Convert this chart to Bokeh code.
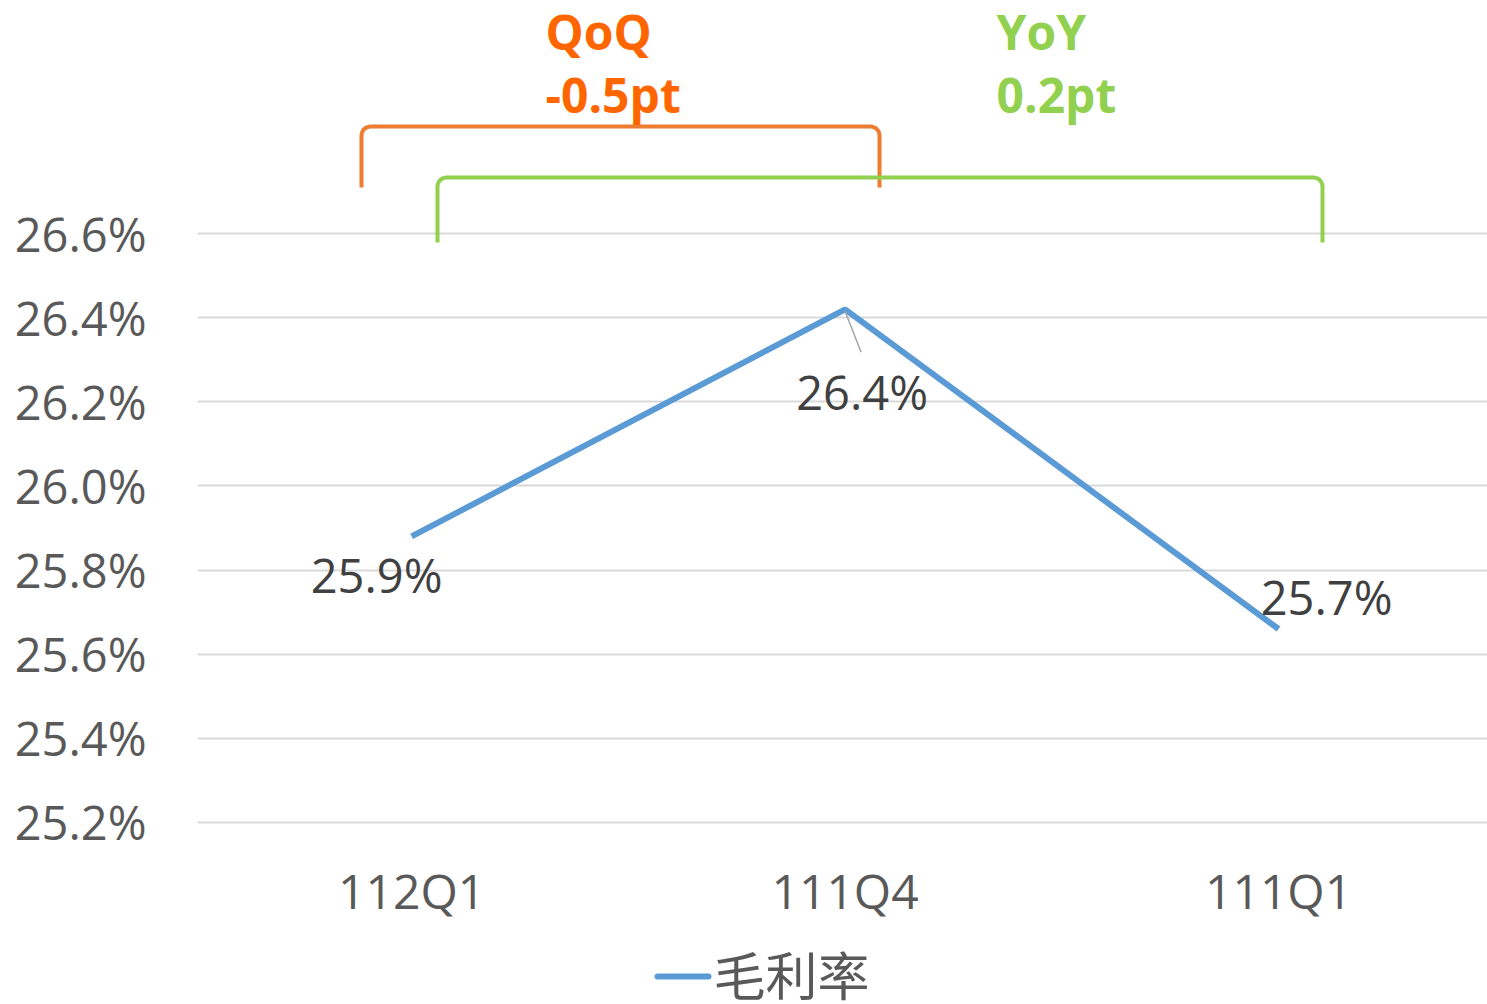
import numpy as np
from bokeh.plotting import figure
from bokeh.layouts import column
from bokeh.models import Range1d, FixedTicker, ColumnDataSource
from bokeh.core.properties import value
from bokeh.embed import file_html
from bokeh.resources import INLINE

# ---- data ----
categories = ["112Q1", "111Q4", "111Q1"]
gross_margin = [25.88, 26.42, 25.66]          # %
data_labels = ["25.9%", "26.4%", "25.7%"]
y_ticks = [25.2, 25.4, 25.6, 25.8, 26.0, 26.2, 26.4, 26.6]
qoq_text = ["QoQ", "-0.5pt"]
yoy_text = ["YoY", "0.2pt"]
series_name = "毛利率"

# ---- layout constants (pixels) ----
W, H_TOTAL = 1487, 1004
H1 = 930                      # main chart
H2 = H_TOTAL - H1             # legend strip
LEFT = 197
FRAME_BOTTOM = 825
BOTTOM = H1 - FRAME_BOTTOM
FRAME_W = W - LEFT
XA, XB = 0.006, 2.982
PXX = FRAME_W / (XB - XA)
PXY = 420.5
Y_GRID_TOP_PX = 233
y0 = 25.2 - (FRAME_BOTTOM - 822) / PXY
y1 = 26.6 + Y_GRID_TOP_PX / PXY

FONT = "Open Sans"
LINE_COLOR = "#5B9BD5"
x_pos = [i + 0.5 for i in range(len(categories))]

p = figure(width=W, height=H1, output_backend="svg", toolbar_location=None,
           x_range=Range1d(XA, XB), y_range=Range1d(y0, y1),
           min_border_left=LEFT, min_border_right=0, min_border_top=0,
           min_border_bottom=BOTTOM)
p.outline_line_color = None
p.background_fill_color = "white"
p.border_fill_color = "white"

# axes
p.xaxis.ticker = FixedTicker(ticks=x_pos)
p.xaxis.major_label_overrides = {x: c for x, c in zip(x_pos, categories)}
p.yaxis.ticker = FixedTicker(ticks=y_ticks)
p.yaxis.major_label_overrides = {t: f"{t:.1f}%" for t in y_ticks}
for ax in (p.xaxis, p.yaxis):
    ax.axis_line_color = None
    ax.major_tick_line_color = None
    ax.minor_tick_line_color = None
    ax.major_label_text_color = "#595959"
    ax.major_label_text_font = FONT
p.yaxis.major_label_text_font_size = "47px"
p.yaxis.major_label_standoff = 45
p.xaxis.major_label_text_font_size = "48px"
p.xaxis.major_label_standoff = 26
p.xgrid.grid_line_color = None
p.ygrid.ticker = FixedTicker(ticks=y_ticks)
p.ygrid.grid_line_color = "#D9D9D9"
p.ygrid.grid_line_width = 2

# line
src = ColumnDataSource(dict(x=x_pos, y=gross_margin, lab=data_labels,
                            xo=[-35, 17, 48], yo=[39, 83, -32]))
p.line("x", "y", source=src, line_color=LINE_COLOR, line_width=6)

# leader line for middle label
p.segment(x0=[x_pos[1]], y0=[gross_margin[1] - 2 / PXY],
          x1=[x_pos[1] + 16 / PXX], y1=[gross_margin[1] - 43 / PXY],
          line_color="#A6A6A6", line_width=1.5)

p.text("x", "y", text="lab", source=src, x_offset="xo", y_offset="yo",
       text_font=value(FONT), text_font_size="47px", text_color="#404040",
       text_align="center", text_baseline="middle")

# brackets
def bracket(xa, xb, ytop, ybot, r=9):
    rx, ry = r / PXX, r / PXY
    t = np.linspace(0, np.pi / 2, 8)
    xs = [xa]
    ys = [ybot]
    xs += list(xa + rx - rx * np.cos(t))
    ys += list(ytop - ry + ry * np.sin(t))
    xs += list(xb - rx + rx * np.sin(t))
    ys += list(ytop - ry + ry * np.cos(t))
    xs.append(xb)
    ys.append(ybot)
    return xs, ys

def xpx(px):
    return XA + (px - LEFT) / PXX

def ypx(py):
    return 26.6 + (Y_GRID_TOP_PX - py) / PXY

bx, by = bracket(xpx(361), xpx(879), ypx(126), ypx(187))
p.line(bx, by, line_color="#ED7D31", line_width=4)
gx, gy = bracket(xpx(437), xpx(1322), ypx(177), ypx(242))
p.line(gx, gy, line_color="#92D050", line_width=4)

p.text(x=[xpx(545)] * 2, y=[ypx(31), ypx(94)], text=qoq_text,
       text_font=value(FONT), text_font_size="48px", text_font_style="bold",
       text_color="#FF6600", text_align="left", text_baseline="alphabetic")
p.text(x=[xpx(996)] * 2, y=[ypx(31), ypx(94)], text=yoy_text,
       text_font=value(FONT), text_font_size="48px", text_font_style="bold",
       text_color="#92D050", text_align="left", text_baseline="alphabetic")

# ---- legend strip (pixel coordinates; frame aligned with main chart) ----
p2 = figure(width=W, height=H2, output_backend="svg", toolbar_location=None,
            x_range=Range1d(LEFT, W), y_range=Range1d(H2, 0),
            x_axis_location=None, y_axis_location=None, min_border=0)
p2.grid.visible = False
p2.outline_line_color = None
p2.border_fill_color = "white"
p2.background_fill_color = "white"
leg_y = 973 - H1
p2.line(x=[657, 708], y=[leg_y + 3, leg_y + 3], line_color=LINE_COLOR,
        line_width=6, line_cap="round")
p2.text(x=[713], y=[leg_y], text=[series_name],
        text_font=value("Noto Sans CJK TC"), text_font_size="52px",
        text_color="#595959", text_align="left", text_baseline="middle")

layout = column(p, p2, spacing=0)
open("out.html", "w").write(file_html(layout, INLINE))
